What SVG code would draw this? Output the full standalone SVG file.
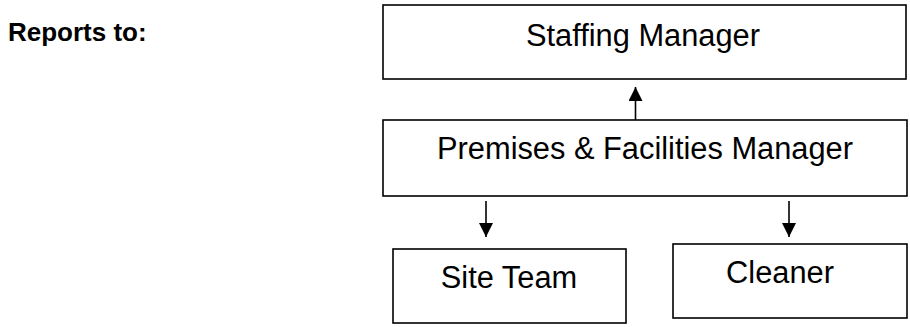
<svg xmlns="http://www.w3.org/2000/svg" width="910" height="327" viewBox="0 0 910 327">
<defs>
<style>
.box{fill:#fff;stroke:#000;stroke-width:1.6}
.lbl{font-family:"Liberation Sans",Arial,sans-serif;font-size:30.8px;fill:#000;text-anchor:middle}
.hdr{font-family:"Liberation Sans",Arial,sans-serif;font-size:26px;font-weight:bold;fill:#000}
.con{stroke:#000;stroke-width:1.6;fill:none}
</style>
<marker id="ah" viewBox="0 0 14 14" refX="14" refY="7" markerWidth="14" markerHeight="14" markerUnits="userSpaceOnUse" orient="auto">
<path d="M0,0 L14,7 L0,14 z" fill="#000"/>
</marker>
</defs>
<rect width="910" height="327" fill="#fff"/>
<text class="hdr" x="8" y="41">Reports to:</text>
<g id="staffing-manager">
<rect class="box" x="383" y="5" width="523" height="74"/>
<text class="lbl" x="643" y="46">Staffing Manager</text>
</g>
<g id="premises-manager">
<rect class="box" x="383" y="120" width="524" height="76"/>
<text class="lbl" x="645" y="159">Premises &amp; Facilities Manager</text>
</g>
<g id="site-team">
<rect class="box" x="393" y="249" width="233" height="74"/>
<text class="lbl" x="509" y="288">Site Team</text>
</g>
<g id="cleaner">
<rect class="box" x="673" y="244" width="234" height="74"/>
<text class="lbl" x="780" y="283">Cleaner</text>
</g>
<g id="connectors">
<line class="con" x1="635.5" y1="120" x2="635.5" y2="87" marker-end="url(#ah)"/>
<line class="con" x1="486" y1="201" x2="486" y2="237" marker-end="url(#ah)"/>
<line class="con" x1="789" y1="201" x2="789" y2="237" marker-end="url(#ah)"/>
</g>
</svg>
